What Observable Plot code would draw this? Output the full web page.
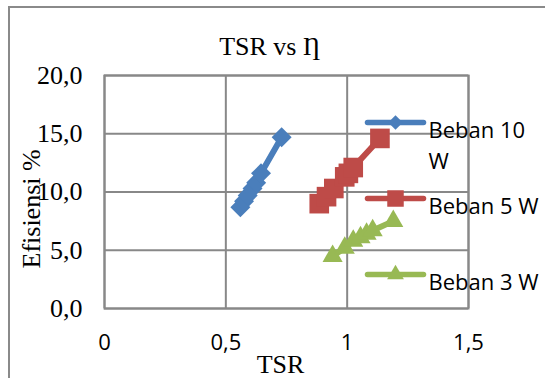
<!DOCTYPE html>
<html>
<head>
<meta charset="utf-8">
<script src="https://cdn.jsdelivr.net/npm/d3@7"></script>
<script src="https://cdn.jsdelivr.net/npm/@observablehq/plot@0.6"></script>
<style>
  html, body { margin: 0; padding: 0; background: #fff; }
  #wrap { position: relative; width: 545px; height: 378px; overflow: hidden; background: #fff; }
  #border { position: absolute; left: 8px; top: 6px; width: 700px; height: 500px; border: 2px solid #8a8a8a; box-sizing: border-box; }
  #chart, #legend { position: absolute; top: 0; left: 0; }
  #legend { left: 360px; top: 100px; }
  #chart g[aria-label="y-axis tick label"] text { font-family: "Liberation Serif", "Times New Roman", serif !important; }
  #chart g[aria-label="x-axis tick label"] text,
  #legend text { font-family: "Open Sans", sans-serif !important; }
</style>
</head>
<body>
<div id="wrap">
  <div id="border"></div>
  <div id="chart"></div>
  <div id="legend"></div>
</div>
<script>
// Tip speed ratio (TSR) and efficiency (%) for each load
const seriesNames = ["Beban 10 W", "Beban 5 W", "Beban 3 W"];
const tsr10 = [0.56, 0.575, 0.59, 0.61, 0.625, 0.645, 0.73];
const eff10 = [8.7, 9.2, 9.7, 10.3, 10.8, 11.6, 14.7];
const tsr5 = [0.885, 0.915, 0.945, 0.99, 1.005, 1.025, 1.135];
const eff5 = [9.0, 9.6, 10.3, 11.3, 11.6, 12.1, 14.6];
const tsr3 = [0.94, 0.99, 1.025, 1.055, 1.08, 1.105, 1.19];
const eff3 = [4.5, 5.2, 5.8, 6.1, 6.4, 6.7, 7.5];
const xTicks = [0, 0.5, 1, 1.5];
const yTicks = [0, 5, 10, 15, 20];

const styles = [
  {color: "#4A7EBB", symbol: "diamond2", r: 9, lr: 6.5},
  {color: "#BE4B48", symbol: "square2", r: 12.5, lr: 10.5},
  {color: "#98B954", symbol: "triangle2", r: 9.6, lr: 8}
];

const rows = (xs, ys) => xs.map((x, i) => ({tsr: x, eff: ys[i]}));
const series = [rows(tsr10, eff10), rows(tsr5, eff5), rows(tsr3, eff3)];

const comma = (d, digits) => d.toFixed(digits).replace(".", ",");
const grid = "#888888";
const serif = "Liberation Serif";

const seriesMarks = series.flatMap((data, i) => [
  Plot.line(data, {x: "tsr", y: "eff", stroke: styles[i].color, strokeWidth: 6, strokeLinejoin: "round"}),
  Plot.dot(data, {x: "tsr", y: "eff", symbol: () => styles[i].symbol, fill: styles[i].color, r: styles[i].r, stroke: "none"})
]);

const chart = Plot.plot({
  width: 545,
  height: 378,
  marginLeft: 104,
  marginRight: 77,
  marginTop: 75,
  marginBottom: 70,
  style: {background: "transparent", overflow: "visible"},
  symbol: {type: "identity"},
  x: {domain: [0, 1.5], ticks: xTicks},
  y: {domain: [0, 20], ticks: yTicks},
  marks: [
    Plot.gridX(xTicks, {stroke: grid, strokeOpacity: 1, strokeWidth: 2}),
    Plot.gridY(yTicks, {stroke: grid, strokeOpacity: 1, strokeWidth: 2}),
    Plot.frame({stroke: grid, strokeWidth: 2}),
    Plot.axisX(xTicks, {tickSize: 0, tickPadding: 26, fontSize: 22, fill: "#000",
      tickFormat: d => d === Math.round(d) ? String(d) : comma(d, 1), label: null}),
    Plot.axisY(yTicks, {tickSize: 0, tickPadding: 22, fontSize: 26, fill: "#000",
      tickFormat: d => comma(d, 1), label: null}),
    ...seriesMarks,
    Plot.text(["TSR vs Ƞ"], {frameAnchor: "top", dx: -17, dy: -29, lineAnchor: "middle",
      fontSize: 26, fontFamily: serif, fill: "#000"}),
    Plot.text(["TSR"], {frameAnchor: "bottom", dx: -6, dy: 56, lineAnchor: "middle",
      fontSize: 26, fontFamily: serif, fill: "#000"}),
    // rotated axis title, reading upward from just above the 0 gridline
    Plot.text(["Efisiensi %"], {frameAnchor: "bottom-left", dx: -73, dy: -40, rotate: -90,
      textAnchor: "start", lineAnchor: "middle", fontSize: 26, fontFamily: serif, fill: "#000"})
  ]
});
document.getElementById("chart").append(chart);

// Legend: one row per load, line + marker + label
const legendItems = seriesNames.map((name, i) => ({name, label: name === "Beban 10 W" ? "Beban 10\nW" : name, ...styles[i]}));
const legend = Plot.plot({
  width: 185,
  height: 200,
  margin: 0,
  style: {background: "transparent", overflow: "visible"},
  x: {type: "identity", axis: null},
  y: {type: "point", domain: seriesNames, range: [21, 174], padding: 0, axis: null},
  r: {type: "identity"},
  symbol: {type: "identity"},
  marks: [
    Plot.link(legendItems, {x1: () => 7, x2: () => 63, y1: "name", y2: "name", stroke: d => d.color, strokeWidth: 5.5, strokeLinecap: "round"}),
    Plot.dot(legendItems, {x: () => 35, y: "name", symbol: "symbol", fill: d => d.color, r: "lr", stroke: "none"}),
    Plot.text(legendItems, {x: () => 68, y: "name", text: "label", textAnchor: "start", lineAnchor: "top", dy: -7,
      lineHeight: 1.43, fontSize: 22, fill: "#000"})
  ]
});
document.getElementById("legend").append(legend);
</script>
</body>
</html>
